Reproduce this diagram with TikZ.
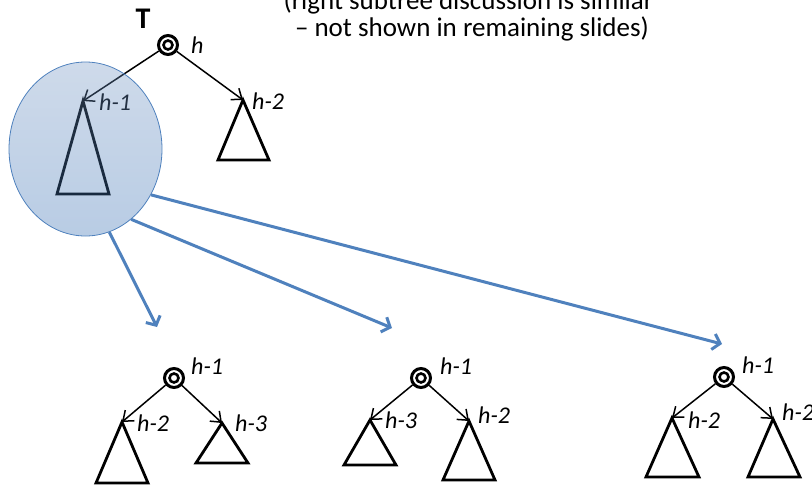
\documentclass[tikz,border=0pt]{standalone}
\usepackage{fontspec}
\setmainfont{Carlito}
\usetikzlibrary{shapes.geometric,arrows.meta}
\definecolor{bl}{HTML}{4F81BD}
\definecolor{elltop}{RGB}{115,149,195}
\definecolor{ellbot}{RGB}{52,109,178}
\begin{document}
\begin{tikzpicture}[x=1pt,y=-1pt,
  rootnode/.style={circle,draw=black,line width=3pt,minimum size=19pt,inner sep=0pt,
    path picture={\draw[line width=2.6pt] (path picture bounding box.center) circle (4.5pt);}},
  arr/.style={line width=1.5pt,-{Straight Barb[length=9pt,width=14pt]}},
  tri/.style={line width=2.8pt},
  hlab/.style={anchor=west,inner sep=0pt,font=\fontsize{24}{28}\selectfont\itshape},
  note/.style={anchor=base,inner sep=0pt,font=\fontsize{27}{27}\selectfont},
  bluearr/.style={draw=bl,line width=3pt,-{Straight Barb[length=7pt,width=16pt]}},
  blob/.style={ellipse,draw=bl,line width=0.8pt,top color=elltop,bottom color=ellbot,
    fill opacity=0.35,minimum width=153pt,minimum height=174pt,inner sep=0pt}]
\useasboundingbox (0,0) rectangle (812,485);
\clip (0,0) rectangle (812,485);

% note text
\node[note] (n1) at (468.5,9) {(right subtree discussion is similar};
\node[note] (n2) at (472,36) {– not shown in remaining slides)};

% top tree
\node[inner sep=0pt,font=\fontsize{30}{34}\selectfont\bfseries] (T) at (143,19) {T};
\node[rootnode] (r0) at (168,45) {};
\node[hlab] (l0) at (191,45) {h};
\coordinate (a0l) at (83,101);
\coordinate (a0r) at (243,100);
\draw[tri] (a0l) -- ++(-26,93) -- ++(52,0) -- cycle;
\draw[tri] (a0r) -- ++(-25,60) -- ++(51,0) -- cycle;
\draw[arr] (r0) -- (a0l);
\draw[arr] (r0) -- (a0r);
\node[hlab] (l0l) at (99,102) {h-1};
\node[hlab] (l0r) at (252,101) {h-2};

% ellipse highlighting the left subtree
\node[blob] (ell) at (85.5,149) {};

% tree 1
\node[rootnode] (r1) at (174,378) {};
\node[hlab] (l1) at (191,366) {h-1};
\coordinate (a1l) at (122,422);
\coordinate (a1r) at (222,423);
\draw[tri] (a1l) -- ++(-26,61) -- ++(52,0) -- cycle;
\draw[tri] (a1r) -- ++(-26,40) -- ++(52,0) -- cycle;
\draw[arr] (r1) -- (a1l);
\draw[arr] (r1) -- (a1r);
\node[hlab] (l1l) at (137,423) {h-2};
\node[hlab] (l1r) at (235,423) {h-3};

% tree 2
\node[rootnode] (r2) at (421,378) {};
\node[hlab] (l2) at (440,366) {h-1};
\coordinate (a2l) at (370,420);
\coordinate (a2r) at (469,421);
\draw[tri] (a2l) -- ++(-26,45) -- ++(52,0) -- cycle;
\draw[tri] (a2r) -- ++(-26,59) -- ++(52,0) -- cycle;
\draw[arr] (r2) -- (a2l);
\draw[arr] (r2) -- (a2r);
\node[hlab] (l2l) at (385,420) {h-3};
\node[hlab] (l2r) at (478,415) {h-2};

% tree 3
\node[rootnode] (r3) at (724,377) {};
\node[hlab] (l3) at (742,365) {h-1};
\coordinate (a3l) at (672,418);
\coordinate (a3r) at (773,419);
\draw[tri] (a3l) -- ++(-26,59) -- ++(53,0) -- cycle;
\draw[tri] (a3r) -- ++(-25,58) -- ++(52,0) -- cycle;
\draw[arr] (r3) -- (a3l);
\draw[arr] (r3) -- (a3r);
\node[hlab] (l3l) at (688,420) {h-2};
\node[hlab] (l3r) at (782,412) {h-2};

% blue arrows
\coordinate (t1) at (157,327);
\coordinate (t2) at (392,328);
\coordinate (t3) at (722,344);
\draw[bluearr] (ell.-74) -- (t1);
\draw[bluearr] (ell.-57) -- (t2);
\draw[bluearr] (ell.-35) -- (t3);
\end{tikzpicture}
\end{document}
